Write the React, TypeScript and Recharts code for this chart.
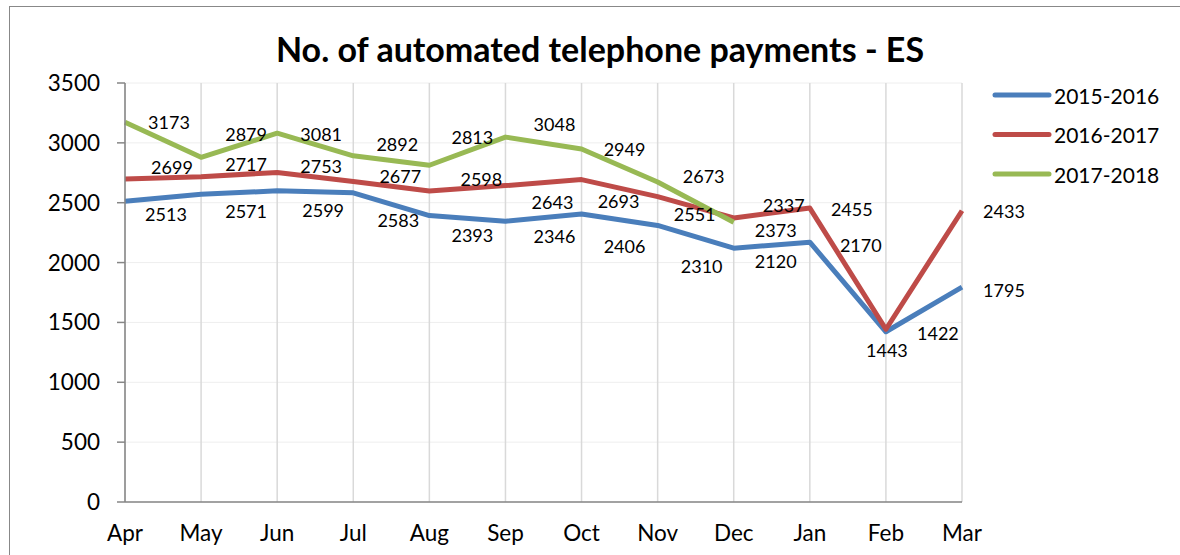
import React from 'react';
import { LineChart, Line, XAxis, YAxis, CartesianGrid, Legend, LabelList } from 'recharts';

const months = ['Apr', 'May', 'Jun', 'Jul', 'Aug', 'Sep', 'Oct', 'Nov', 'Dec', 'Jan', 'Feb', 'Mar'];
const s2015 = [2513, 2571, 2599, 2583, 2393, 2346, 2406, 2310, 2120, 2170, 1422, 1795];
const s2016 = [2699, 2717, 2753, 2677, 2598, 2643, 2693, 2551, 2373, 2455, 1443, 2433];
const s2017: (number | null)[] = [3173, 2879, 3081, 2892, 2813, 3048, 2949, 2673, 2337, null, null, null];
const yTicks = [0, 500, 1000, 1500, 2000, 2500, 3000, 3500];
const seriesNames = ['2015-2016', '2016-2017', '2017-2018'];
const colors = ['#4A7EBB', '#BE4B48', '#98B954'];

const data = months.map((m, i) => ({
  month: m,
  a: s2015[i],
  b: s2016[i],
  c: s2017[i],
}));

// label placement offsets (px, relative to point) — layout only
const offA = [[41, 13], [45, 17], [46, 19], [45, 27], [43, 19], [49, 15], [43, 32], [44, 41], [42, 13], [51, 3], [52, 1], [42, 3]];
const offB = [[47, -12], [45, -13], [44, -6], [47, -6], [52, -12], [47, 16], [37, 21], [37, 17], [42, 12], [42, 1], [1, 21], [42, 0]];
const offC = [[44, 0], [45, -23], [44, 1], [44, -12], [43, -28], [49, -13], [43, 0], [46, -6], [50, -17]];

const FONT = 'Lato, "Open Sans", sans-serif';

const makeLabel = (off: number[][]) => (props: any) => {
  const { x, y, value, index } = props;
  if (value == null || x == null || y == null) return null;
  const o = off[index] || [40, 0];
  return (
    <text
      x={x + o[0]}
      y={y + o[1]}
      textAnchor="middle"
      dominantBaseline="central"
      fontSize={18}
      fontFamily={FONT}
      fill="#000"
    >
      {value}
    </text>
  );
};

const LegendContent = () => (
  <svg width={180} height={110}>
    {seriesNames.map((n, i) => (
      <g key={n}>
        <line x1={5} x2={59} y1={15 + i * 39.5} y2={15 + i * 39.5} stroke={colors[i]} strokeWidth={5} strokeLinecap="round" />
        <text x={64} y={15 + i * 39.5} dominantBaseline="central" fontSize={21} fontFamily={FONT} fill="#000">
          {n}
        </text>
      </g>
    ))}
  </svg>
);

export default function App() {
  return (
    <div style={{ position: 'absolute', left: 0, top: 0, width: 1180, height: 555, background: '#fff', overflow: 'hidden' }}>
      <div style={{ position: 'absolute', left: 9, top: 6, width: 1171, height: 549, borderTop: '1px solid #888', borderLeft: '1px solid #888' }} />
      <div
        style={{
          position: 'absolute',
          left: 0,
          top: 32,
          width: 1200,
          textAlign: 'center',
          fontFamily: FONT,
          fontWeight: 'bold',
          fontSize: 34,
          lineHeight: '34px',
          color: '#000',
        }}
      >
        No. of automated telephone payments - ES
      </div>
      <div style={{ position: 'absolute', left: 0, top: 0 }}>
        <LineChart width={1180} height={555} data={data} margin={{ top: 83, right: 218, bottom: 13, left: 0 }}>
          <CartesianGrid stroke="#EEEEEE" vertical={false} />
          <CartesianGrid stroke="#D9D9D9" strokeWidth={1.5} horizontal={false} />
          <XAxis
            dataKey="month"
            height={40}
            tickLine={false}
            tickSize={0}
            tickMargin={23}
            axisLine={{ stroke: '#868686', strokeWidth: 1.5 }}
            tick={{ fontSize: 22.5, fontFamily: FONT, fill: '#000' }}
            interval={0}
          />
          <YAxis
            width={125}
            domain={[0, 3500]}
            ticks={yTicks}
            tickSize={8}
            tickMargin={17}
            tickLine={{ stroke: '#868686', strokeWidth: 1.5 }}
            axisLine={{ stroke: '#868686', strokeWidth: 1.5 }}
            tick={{ fontSize: 22.5, fontFamily: FONT, fill: '#000' }}
            interval={0}
          />
          <Legend
            layout="horizontal"
            align="center"
            verticalAlign="middle"
            wrapperStyle={{ position: 'absolute', left: 990, top: 80, width: 180, height: 110 }}
            content={LegendContent}
          />
          <Line dataKey="a" name={seriesNames[0]} stroke={colors[0]} strokeWidth={5} dot={false} isAnimationActive={false} strokeLinejoin="round">
            <LabelList dataKey="a" content={makeLabel(offA)} />
          </Line>
          <Line dataKey="b" name={seriesNames[1]} stroke={colors[1]} strokeWidth={5} dot={false} isAnimationActive={false} strokeLinejoin="round">
            <LabelList dataKey="b" content={makeLabel(offB)} />
          </Line>
          <Line dataKey="c" name={seriesNames[2]} stroke={colors[2]} strokeWidth={5} dot={false} isAnimationActive={false} strokeLinejoin="round">
            <LabelList dataKey="c" content={makeLabel(offC)} />
          </Line>
        </LineChart>
      </div>
    </div>
  );
}
